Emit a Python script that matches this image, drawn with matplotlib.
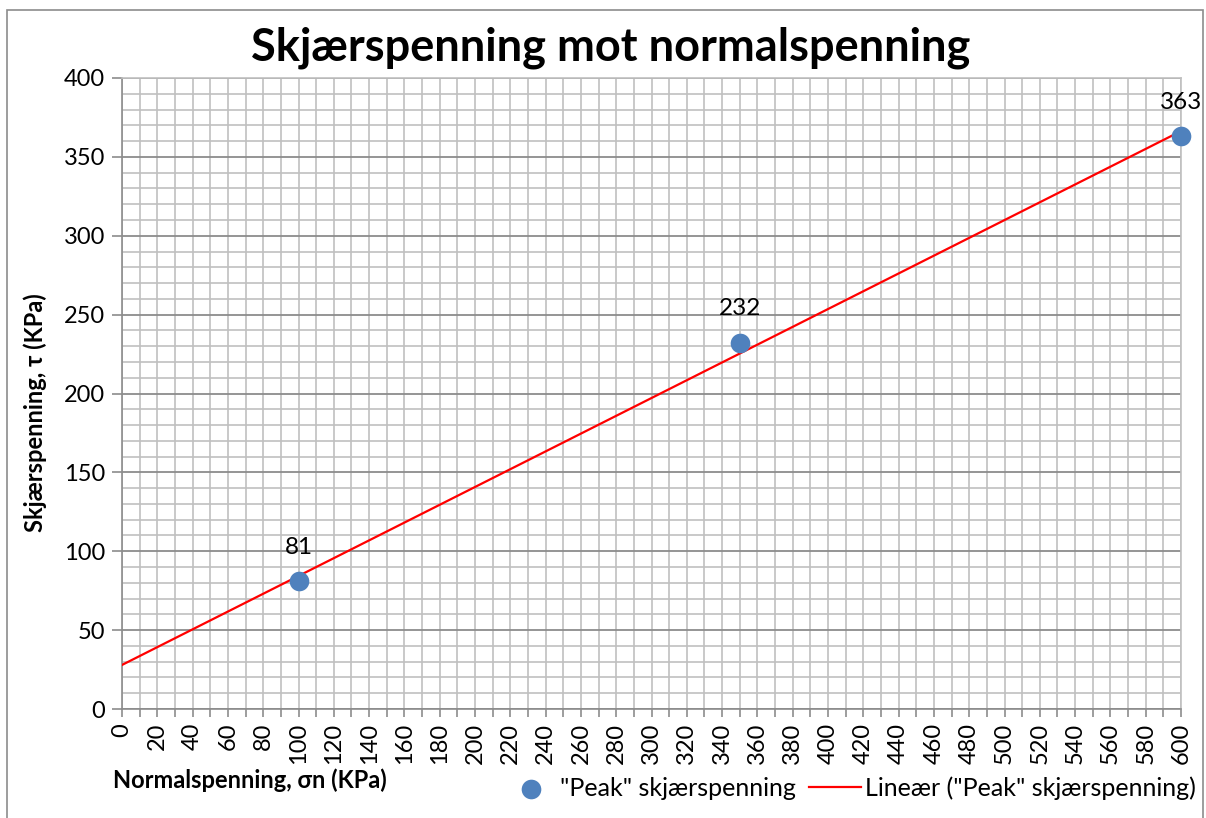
import numpy as np
import matplotlib
matplotlib.use("Agg")
import matplotlib.pyplot as plt
from matplotlib.patches import Rectangle
from matplotlib.ticker import MultipleLocator

# data
normal_stress = [100, 350, 600]
shear_stress = [81, 232, 363]
point_labels = ["81", "232", "363"]

plt.rcParams['font.family'] = ['Lato', 'DejaVu Sans']

fig = plt.figure(figsize=(12.06, 8.18), dpi=100)
ax = fig.add_axes([122 / 1206, 1 - 709 / 818, (1181 - 122) / 1206, (709 - 78) / 818])

# outer chart border
fig.patches.append(Rectangle((7 / 1206, -0.05), 1196 / 1206, 1.05 - 10 / 818,
                             transform=fig.transFigure, fill=False,
                             edgecolor='#8c8c8c', linewidth=1.2))

# linear trend line (least squares) over the whole axis
slope, intercept = np.polyfit(normal_stress, shear_stress, 1)
xs = np.array([0, 600])
trend, = ax.plot(xs, slope * xs + intercept, color='#ff0000', linewidth=1.6, zorder=3,
                 label='Lineær ("Peak" skjærspenning)')

pts = ax.scatter(normal_stress, shear_stress, s=200, color='#4f81bd', zorder=4,
                 label='"Peak" skjærspenning', linewidths=0, clip_on=False)

for x, y, t in zip(normal_stress, shear_stress, point_labels):
    ax.annotate(t, (x, y), xytext=(0, 17), textcoords='offset points',
                ha='center', va='bottom', fontsize=17.5)

ax.set_xlim(0, 600)
ax.set_ylim(0, 400)
ax.xaxis.set_major_locator(MultipleLocator(20))
ax.xaxis.set_minor_locator(MultipleLocator(10))
ax.yaxis.set_major_locator(MultipleLocator(50))
ax.yaxis.set_minor_locator(MultipleLocator(10))

ax.grid(which='minor', color='#c0c0c0', linewidth=1.2)
ax.grid(which='major', axis='x', color='#c0c0c0', linewidth=1.2)
ax.grid(which='major', axis='y', color='#8c8c8c', linewidth=1.3)
ax.set_axisbelow(True)

ax.tick_params(axis='x', which='both', direction='out', length=6, color='#8c8c8c',
               width=1.2, labelsize=17, rotation=90, pad=4)
ax.tick_params(axis='y', which='major', direction='out', length=7, color='#8c8c8c',
               width=1.2, labelsize=17, pad=5)
ax.tick_params(axis='y', which='minor', length=0)

for side in ['left', 'bottom', 'top', 'right']:
    ax.spines[side].set_color('#8c8c8c')
    ax.spines[side].set_linewidth(1.2)
ax.spines['top'].set_color('#c0c0c0')
ax.spines['right'].set_color('#c0c0c0')

fig.text(611 / 1206, 1 - 48 / 818, 'Skjærspenning mot normalspenning',
         ha='center', va='center', fontsize=32.5, fontweight='bold')
fig.text(35 / 1206, 1 - 413 / 818, 'Skjærspenning, τ (KPa)', rotation=90,
         ha='center', va='center', fontsize=17, fontweight='bold')
fig.text(113 / 1206, 1 - 780 / 818, 'Normalspenning, σn (KPa)',
         ha='left', va='center', fontsize=17, fontweight='bold')

fig.legend(handles=[pts, trend], loc='center right',
           bbox_to_anchor=(1196 / 1206, 1 - 788 / 818),
           ncol=2, frameon=False, fontsize=18, handlelength=2.1,
           handletextpad=0.15, columnspacing=0.5, borderaxespad=0, borderpad=0,
           scatterpoints=1)

fig.savefig("out.png", dpi=100)
